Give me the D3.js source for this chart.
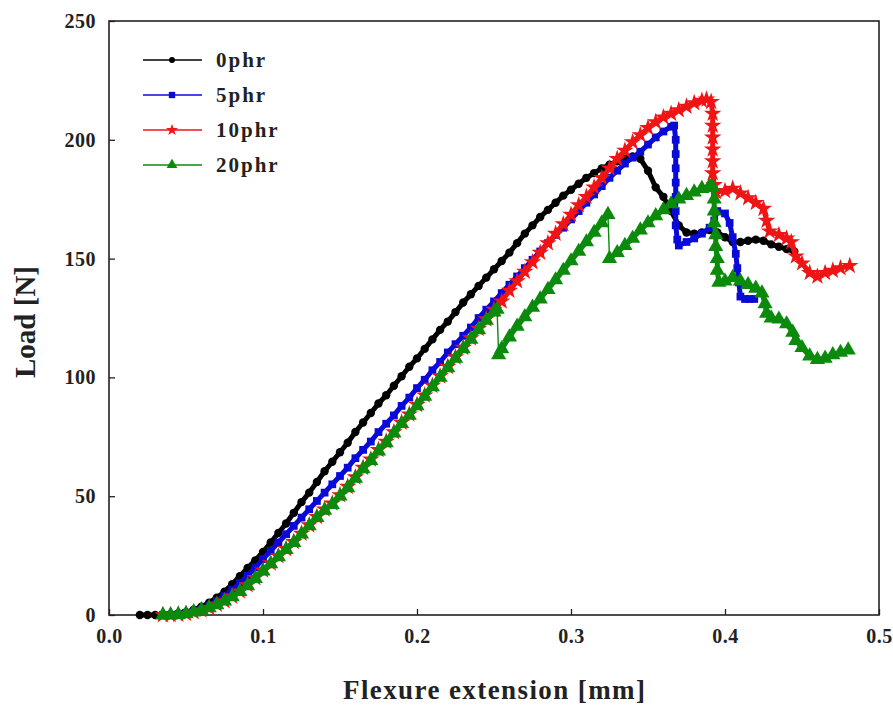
<!DOCTYPE html>
<html><head><meta charset="utf-8">
<script src="https://cdn.jsdelivr.net/npm/d3@7/dist/d3.min.js"></script>
<style>body{margin:0;background:#fff}</style>
</head><body><svg id="c" width="893" height="718"></svg>
<script>
const seriesNames = ["0phr", "5phr", "10phr", "20phr"];
const seriesColors = ["#000000", "#0a0ad8", "#f01414", "#0b8a0b"];
const xTicks = [0.0, 0.1, 0.2, 0.3, 0.4, 0.5];
const yTicks = [0, 50, 100, 150, 200, 250];
const xTitle = "Flexure extension [mm]";
const yTitle = "Load [N]";

// [extension mm, load N]
const phr0 = [[0.020,0],[0.025,0],[0.030,0],[0.035,0],[0.040,0.3],[0.045,0.6],[0.050,1.2],[0.055,2.2],[0.060,3.5],[0.065,5.2],[0.070,7.3],[0.075,9.8],[0.080,13],[0.085,16.3],[0.090,19.8],[0.095,23],[0.100,26.5],[0.105,30.5],[0.110,34.5],[0.115,38.5],[0.120,43],[0.125,47.5],[0.130,51.5],[0.135,56],[0.140,60.5],[0.145,64.5],[0.150,68.5],[0.155,72.5],[0.160,77],[0.165,81],[0.170,85],[0.175,89],[0.180,92.5],[0.185,96.5],[0.190,100.5],[0.195,104.5],[0.200,108],[0.205,112],[0.210,116],[0.215,120],[0.220,123.5],[0.225,127.5],[0.230,131.5],[0.235,135],[0.240,138.5],[0.245,142],[0.250,145.5],[0.255,149],[0.260,152.5],[0.265,156.5],[0.270,160.5],[0.275,164],[0.280,167.5],[0.285,170.5],[0.290,173.5],[0.295,176.5],[0.300,179],[0.305,181.5],[0.310,184],[0.315,186],[0.320,188],[0.325,189.5],[0.330,191],[0.335,192],[0.340,193],[0.345,192],[0.350,187],[0.355,180],[0.360,176],[0.365,170],[0.370,164],[0.375,161],[0.380,160.5],[0.385,161],[0.390,162],[0.395,161],[0.400,159],[0.405,157],[0.410,157],[0.415,157.5],[0.420,158],[0.425,157.5],[0.430,156],[0.435,155],[0.440,154],[0.445,153]];

const phr5 = [[0.035,0],[0.040,0],[0.045,0.3],[0.050,0.8],[0.055,1.5],[0.060,2.5],[0.065,4],[0.070,6],[0.075,8],[0.080,10.5],[0.085,13.5],[0.090,16.5],[0.095,20],[0.100,23.5],[0.105,27],[0.110,30.5],[0.115,34],[0.120,37.5],[0.125,41],[0.130,44.5],[0.135,48],[0.140,51.5],[0.145,55],[0.150,58.5],[0.155,62],[0.160,66],[0.165,69.5],[0.170,73],[0.175,77],[0.180,80.5],[0.185,84],[0.190,88],[0.195,91.5],[0.200,95.5],[0.205,99],[0.210,103],[0.215,106.5],[0.220,110.5],[0.225,114],[0.230,117.5],[0.235,121],[0.240,125],[0.245,128.5],[0.250,132],[0.255,135.5],[0.260,139],[0.265,142.5],[0.270,146],[0.275,149.5],[0.280,153],[0.285,156.5],[0.290,160],[0.295,163],[0.300,166.5],[0.305,170],[0.310,173.5],[0.315,177],[0.320,180.5],[0.325,184],[0.330,187],[0.335,190],[0.340,192.5],[0.345,195],[0.350,198],[0.355,201],[0.360,203.5],[0.365,205.5],[0.367,206],[0.368,200],[0.368,194],[0.368,188],[0.368,182],[0.368,176],[0.368,170],[0.368,164],[0.369,158],[0.370,155.5],[0.375,157],[0.380,158.5],[0.385,160.5],[0.390,163],[0.393,166],[0.395,170],[0.400,169],[0.403,165],[0.405,159],[0.407,152],[0.408,146],[0.409,140],[0.410,134],[0.413,133],[0.416,133],[0.419,133]];

const phr10 = [[0.035,0],[0.040,0],[0.045,0.2],[0.050,0.5],[0.055,1.2],[0.060,2],[0.065,3],[0.070,4.4],[0.075,5.9],[0.080,7.8],[0.085,10],[0.090,12.6],[0.095,15.6],[0.100,18.8],[0.105,21.8],[0.110,24.8],[0.115,27.8],[0.120,30.8],[0.125,34.3],[0.130,37.8],[0.135,41.3],[0.140,44.5],[0.145,47],[0.150,50.5],[0.155,54],[0.160,58],[0.165,62],[0.170,65.5],[0.175,69.5],[0.180,73],[0.185,77],[0.190,81],[0.195,84.5],[0.200,88.5],[0.205,92.5],[0.210,96.5],[0.215,100.5],[0.220,104.5],[0.225,108.5],[0.230,112.5],[0.235,116.5],[0.240,120.5],[0.245,124.5],[0.250,128.5],[0.255,132],[0.260,136.5],[0.265,140.5],[0.270,144.5],[0.275,148.5],[0.280,152.5],[0.285,156.5],[0.290,160.5],[0.295,164.5],[0.300,168.5],[0.305,172.5],[0.310,176],[0.315,180],[0.320,184],[0.325,188],[0.330,192],[0.335,195.5],[0.340,199],[0.345,202],[0.350,205],[0.355,207.5],[0.360,209.5],[0.365,211],[0.370,212.5],[0.375,214],[0.380,215.5],[0.385,216.5],[0.388,217],[0.391,216],[0.392,211],[0.392,206],[0.392,201],[0.392,196],[0.392,191],[0.392,186],[0.393,181],[0.394,178],[0.400,178.5],[0.405,179.5],[0.410,177.5],[0.415,175.5],[0.420,173.5],[0.425,171],[0.427,166],[0.429,161.5],[0.435,160],[0.440,158.5],[0.443,157],[0.446,151],[0.450,148],[0.455,144],[0.460,142.5],[0.465,144],[0.470,145],[0.475,146],[0.481,147]];

const phr20 = [[0.035,0],[0.040,0],[0.045,0.2],[0.050,0.5],[0.055,1.2],[0.060,2],[0.065,3],[0.070,4.3],[0.075,5.8],[0.080,7.6],[0.085,9.8],[0.090,12.3],[0.095,15.3],[0.100,18.5],[0.105,21.5],[0.110,24.5],[0.115,27.5],[0.120,30.5],[0.125,34],[0.130,37.5],[0.135,41],[0.140,44],[0.145,46.5],[0.150,50],[0.155,53.5],[0.160,57.5],[0.165,61.5],[0.170,65],[0.175,69],[0.180,72.5],[0.185,76.5],[0.190,80.5],[0.195,84],[0.200,88],[0.205,92],[0.210,96],[0.215,100],[0.220,104],[0.225,108],[0.230,112],[0.235,116],[0.240,120],[0.245,124],[0.250,127.5],[0.252,128.6],[0.253,109.5],[0.255,112],[0.260,117],[0.265,121.5],[0.270,125.5],[0.275,129.5],[0.280,133],[0.285,137],[0.290,141],[0.295,145],[0.300,149],[0.305,153],[0.310,157],[0.315,161],[0.320,165],[0.324,168.5],[0.325,150],[0.330,152.5],[0.335,155.5],[0.340,158.5],[0.345,162],[0.350,165],[0.355,168],[0.360,170.5],[0.365,173],[0.370,175],[0.375,176.5],[0.380,178],[0.385,179.5],[0.390,180.5],[0.392,180],[0.393,175],[0.393,170],[0.393,165],[0.394,160],[0.394,155],[0.395,150],[0.395,145],[0.396,140],[0.400,140.5],[0.405,142],[0.410,140.5],[0.415,139],[0.420,137.5],[0.424,135.5],[0.426,131],[0.427,127],[0.430,125],[0.435,124.5],[0.440,122.5],[0.444,119],[0.446,115.5],[0.450,112.5],[0.455,109],[0.460,107.5],[0.465,108],[0.470,109.5],[0.475,110.5],[0.480,111.5]];

const seriesData = [phr0, phr5, phr10, phr20];
const symbolTypes = [d3.symbolCircle, d3.symbolSquare, d3.symbolStar, d3.symbolTriangle];
const symbolSizes = [55, 60, 95, 100];
const legendSymbolSizes = [28, 40, 45, 50];

const svg = d3.select("#c");
const L = 109, R = 879, T = 21, B = 615;
const x = d3.scaleLinear().domain([0, 0.5]).range([L, R]);
const y = d3.scaleLinear().domain([0, 250]).range([B, T]);
const font = "'Liberation Serif', 'Times New Roman', serif";

// axes
const xAxis = d3.axisBottom(x).tickValues(xTicks).tickSize(-6).tickPadding(14).tickFormat(d3.format(".1f"));
const yAxis = d3.axisLeft(y).tickValues(yTicks).tickSize(-6).tickPadding(13).tickFormat(d3.format("d"));
const gx = svg.append("g").attr("transform", `translate(0,${B})`).call(xAxis);
const gy = svg.append("g").attr("transform", `translate(${L},0)`).call(yAxis);
[gx, gy].forEach(g => {
  g.select(".domain").remove();
  g.selectAll("line").attr("stroke", "#222").attr("stroke-width", 1.3);
  g.selectAll("text").attr("font-family", font).attr("font-weight", "bold").attr("font-size", 20)
    .attr("letter-spacing", 0.5).attr("fill", "#222");
});
gx.selectAll("text").attr("dy", "0.71em");
// frame
svg.append("rect").attr("x", L).attr("y", T).attr("width", R - L).attr("height", B - T)
  .attr("fill", "none").attr("stroke", "#222").attr("stroke-width", 1.6);

// series: thin connecting line, thick band broken at single-step drops, markers
const line = d3.line().x(d => x(d[0])).y(d => y(d[1]));
seriesData.forEach((data, i) => {
  const g = svg.append("g");
  g.append("path").datum(data).attr("d", line).attr("fill", "none")
    .attr("stroke", seriesColors[i]).attr("stroke-width", 1.4);
  const segs = [[data[0]]];
  for (let k = 1; k < data.length; k++) {
    if (data[k - 1][1] - data[k][1] > 10) segs.push([]);
    segs[segs.length - 1].push(data[k]);
  }
  g.selectAll("path.band").data(segs).enter().append("path").attr("class", "band")
    .attr("d", line).attr("fill", "none")
    .attr("stroke", seriesColors[i]).attr("stroke-width", 5).attr("stroke-linejoin", "round");
  g.selectAll("path.m").data(data).enter().append("path").attr("class", "m")
    .attr("d", d3.symbol().type(symbolTypes[i]).size(symbolSizes[i]))
    .attr("transform", d => `translate(${x(d[0])},${y(d[1])})`)
    .attr("fill", seriesColors[i]);
});

// legend
const leg = svg.append("g");
seriesNames.forEach((n, i) => {
  const yy = 60 + i * 35;
  leg.append("line").attr("x1", 143).attr("x2", 202).attr("y1", yy).attr("y2", yy)
    .attr("stroke", seriesColors[i]).attr("stroke-width", 1.6);
  leg.append("path").attr("d", d3.symbol().type(symbolTypes[i]).size(legendSymbolSizes[i])())
    .attr("transform", `translate(172,${yy})`).attr("fill", seriesColors[i]);
  leg.append("text").attr("x", 216).attr("y", yy + 7).text(n)
    .attr("font-family", font).attr("font-weight", "bold").attr("font-size", 21)
    .attr("letter-spacing", 2).attr("fill", "#222");
});

// titles
svg.append("text").attr("x", (L + R) / 2).attr("y", 699).attr("text-anchor", "middle")
  .attr("font-family", font).attr("font-weight", "bold").attr("font-size", 27).attr("fill", "#222")
  .attr("textLength", 302).attr("lengthAdjust", "spacing").text(xTitle);
svg.append("text").attr("transform", `translate(35,${(T + B) / 2 + 4}) rotate(-90)`).attr("text-anchor", "middle")
  .attr("font-family", font).attr("font-weight", "bold").attr("font-size", 29).attr("fill", "#222")
  .text(yTitle);
</script>
</body></html>
